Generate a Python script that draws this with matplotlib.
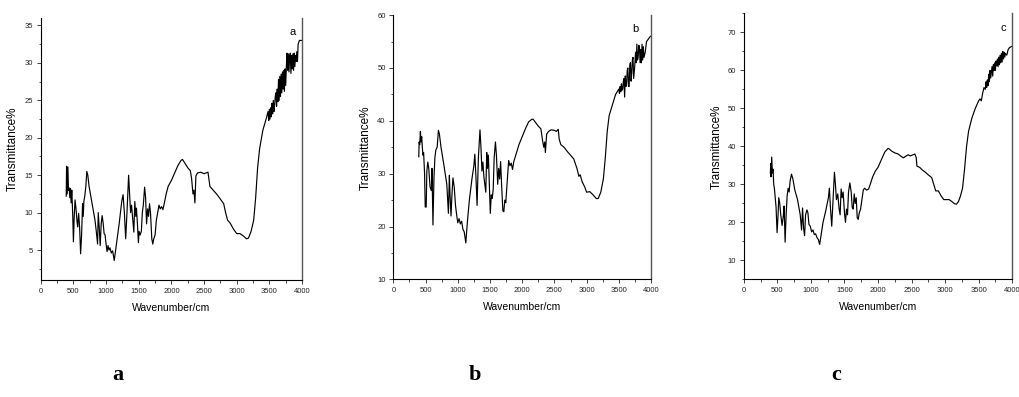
import matplotlib.pyplot as plt
from matplotlib.ticker import MultipleLocator

# ---- FTIR spectra: (wavenumber cm-1, transmittance %) ----
spectrum_a = [
    (390, 12.2), (395, 16.2), (405, 12.5), (415, 16.1), (425, 13.0), (435, 13.3), (445, 12.0),
    (455, 13.2), (465, 11.3), (475, 13.0), (490, 9.5), (500, 6.1), (510, 9.0), (525, 11.7),
    (540, 10.5), (555, 8.8), (565, 8.1), (580, 9.9), (595, 8.0), (610, 4.5), (625, 7.0),
    (640, 11.2), (650, 9.5), (660, 11.5), (675, 12.3), (690, 13.5), (705, 15.5), (720, 15.0),
    (740, 13.5), (760, 12.5), (800, 10.5), (830, 9.0), (850, 7.5), (870, 5.8), (880, 10.0),
    (895, 8.0), (910, 5.6), (925, 8.5), (940, 9.6), (955, 8.6), (970, 7.2), (985, 7.0),
    (1000, 5.8), (1015, 4.8), (1030, 5.6), (1045, 5.0), (1060, 5.3), (1080, 4.6), (1100, 4.9),
    (1125, 3.6), (1150, 5.2), (1200, 8.5), (1240, 11.5), (1260, 12.4), (1280, 10.0), (1300, 6.5),
    (1320, 10.0), (1345, 15.0), (1360, 12.5), (1375, 10.0), (1390, 11.0), (1410, 9.0),
    (1425, 7.4), (1440, 11.5), (1455, 9.5), (1465, 10.6), (1480, 8.5), (1495, 6.0), (1505, 7.5),
    (1520, 7.0), (1540, 7.5), (1555, 10.0), (1570, 11.0), (1590, 13.4), (1605, 12.0),
    (1620, 8.5), (1635, 10.5), (1650, 9.5), (1665, 11.2), (1680, 10.0), (1700, 6.5), (1715, 5.8),
    (1730, 6.5), (1750, 7.0), (1770, 9.0), (1790, 10.0), (1810, 11.0), (1830, 10.5),
    (1850, 10.8), (1870, 10.4), (1890, 11.2), (1920, 12.5), (1950, 13.5), (2000, 14.3),
    (2050, 15.3), (2100, 16.3), (2150, 17.0), (2170, 17.1), (2200, 16.7), (2250, 16.0),
    (2290, 15.6), (2310, 14.5), (2330, 12.5), (2345, 13.0), (2360, 11.3), (2375, 14.9),
    (2400, 15.3), (2450, 15.4), (2500, 15.2), (2530, 15.3), (2560, 15.4), (2575, 14.5),
    (2590, 13.5), (2650, 12.9), (2700, 12.4), (2750, 11.8), (2800, 11.2), (2830, 10.0),
    (2860, 9.0), (2900, 8.6), (2950, 7.8), (3000, 7.2), (3050, 7.2), (3100, 6.9), (3150, 6.5),
    (3180, 6.6), (3220, 7.5), (3260, 9.0), (3290, 12.0), (3320, 16.0), (3350, 18.5),
    (3400, 21.0), (3450, 22.5), (3480, 23.5), (3490, 22.3), (3500, 23.8), (3510, 22.5),
    (3520, 24.0), (3530, 22.8), (3540, 24.6), (3550, 23.2), (3560, 25.0), (3570, 23.5),
    (3580, 24.3), (3590, 25.5), (3600, 26.0), (3610, 24.2), (3620, 26.5), (3630, 24.8),
    (3640, 27.8), (3650, 25.0), (3660, 28.2), (3670, 25.5), (3680, 28.5), (3690, 26.0),
    (3700, 28.8), (3710, 26.5), (3720, 29.0), (3730, 26.2), (3740, 29.2), (3750, 27.0),
    (3760, 29.5), (3770, 31.3), (3780, 29.0), (3790, 31.2), (3800, 28.8), (3810, 30.8),
    (3820, 31.3), (3830, 28.6), (3840, 31.0), (3850, 29.2), (3860, 31.2), (3870, 29.0),
    (3880, 31.3), (3890, 29.5), (3900, 31.0), (3910, 30.2), (3920, 31.5), (3930, 30.2),
    (3940, 32.5), (3960, 33.0), (3990, 33.0),
]

spectrum_b = [
    (395, 33.2), (400, 36.0), (410, 35.5), (420, 38.0), (430, 36.0), (440, 37.0), (450, 35.0),
    (460, 33.5), (470, 34.0), (485, 30.0), (495, 23.7), (510, 23.7), (520, 30.5), (535, 32.2),
    (550, 31.0), (570, 27.5), (590, 26.8), (600, 31.0), (615, 20.3), (630, 29.0), (645, 33.0),
    (660, 34.5), (680, 35.0), (700, 38.2), (715, 37.5), (740, 35.0), (780, 32.0), (830, 28.0),
    (855, 22.5), (870, 29.7), (880, 26.0), (895, 22.0), (910, 26.0), (925, 29.2), (945, 27.5),
    (965, 24.0), (980, 22.5), (1000, 20.7), (1020, 21.5), (1040, 20.5), (1060, 21.0),
    (1080, 19.5), (1100, 19.0), (1125, 16.9), (1150, 21.0), (1180, 25.0), (1220, 29.0),
    (1250, 31.5), (1265, 33.7), (1280, 30.0), (1300, 24.0), (1320, 33.0), (1345, 38.3),
    (1360, 35.0), (1375, 30.5), (1390, 32.2), (1405, 29.5), (1420, 28.0), (1435, 26.5),
    (1450, 34.0), (1460, 31.0), (1475, 33.5), (1490, 28.0), (1505, 22.5), (1520, 26.0),
    (1535, 25.3), (1550, 27.0), (1565, 33.0), (1585, 36.0), (1600, 33.5), (1620, 28.0),
    (1635, 31.0), (1650, 29.0), (1665, 32.3), (1680, 28.0), (1700, 23.0), (1715, 22.8),
    (1730, 25.0), (1745, 24.5), (1770, 29.0), (1790, 32.5), (1810, 31.5), (1830, 32.0),
    (1850, 30.8), (1870, 32.3), (1900, 33.5), (1950, 35.5), (2000, 37.0), (2050, 38.5),
    (2100, 39.8), (2150, 40.3), (2170, 40.3), (2200, 39.8), (2250, 39.0), (2290, 38.5),
    (2320, 36.0), (2335, 35.0), (2350, 36.0), (2360, 34.0), (2380, 37.5), (2410, 38.0),
    (2450, 38.3), (2500, 38.2), (2530, 38.0), (2560, 38.4), (2575, 36.5), (2600, 35.5),
    (2650, 35.0), (2700, 34.2), (2750, 33.5), (2800, 32.8), (2850, 31.0), (2880, 29.5),
    (2900, 29.8), (2930, 28.5), (2970, 27.5), (3000, 26.5), (3050, 26.6), (3100, 26.0),
    (3150, 25.3), (3180, 25.3), (3220, 26.5), (3260, 29.0), (3290, 33.0), (3320, 38.0),
    (3350, 41.0), (3400, 43.0), (3450, 45.0), (3500, 46.0), (3510, 45.2), (3520, 46.5),
    (3530, 45.5), (3540, 47.0), (3550, 45.8), (3560, 46.0), (3570, 47.5), (3580, 48.0),
    (3590, 44.5), (3600, 48.5), (3610, 46.5), (3620, 47.0), (3630, 49.5), (3640, 50.0),
    (3650, 46.5), (3660, 46.5), (3670, 50.5), (3680, 51.0), (3690, 47.5), (3700, 49.0),
    (3710, 51.5), (3720, 52.0), (3730, 48.0), (3745, 50.0), (3760, 53.0), (3770, 51.0),
    (3780, 54.5), (3790, 51.5), (3800, 52.0), (3810, 54.3), (3820, 54.0), (3830, 51.0),
    (3840, 53.5), (3850, 51.0), (3860, 54.5), (3870, 51.5), (3880, 54.0), (3890, 52.0),
    (3910, 53.0), (3930, 55.0), (3960, 55.5), (3990, 56.0),
]

spectrum_c = [
    (395, 33.0), (400, 35.5), (405, 32.0), (415, 37.2), (425, 33.0), (435, 34.0), (445, 30.0),
    (455, 29.0), (465, 27.0), (480, 24.0), (495, 17.3), (510, 22.0), (520, 26.5), (535, 25.0),
    (550, 22.0), (570, 19.2), (590, 22.0), (600, 24.3), (615, 14.8), (630, 22.0), (645, 27.0),
    (660, 29.0), (675, 28.0), (690, 31.0), (710, 32.7), (730, 31.5), (760, 28.5), (800, 26.0),
    (840, 22.0), (860, 18.0), (875, 23.8), (890, 18.5), (905, 16.5), (920, 22.0), (940, 23.3),
    (955, 22.5), (970, 19.5), (990, 19.0), (1010, 17.5), (1030, 18.0), (1050, 16.8),
    (1070, 17.0), (1090, 16.0), (1110, 15.5), (1130, 14.2), (1150, 16.5), (1180, 20.0),
    (1220, 23.0), (1260, 26.5), (1275, 29.0), (1290, 24.0), (1310, 19.0), (1330, 26.0),
    (1350, 33.2), (1365, 30.0), (1380, 26.0), (1400, 27.5), (1420, 23.5), (1435, 22.0),
    (1450, 28.8), (1465, 26.5), (1480, 28.0), (1500, 22.5), (1515, 20.0), (1530, 23.5),
    (1545, 22.0), (1560, 28.0), (1580, 30.4), (1600, 28.0), (1615, 24.0), (1630, 23.5),
    (1645, 27.5), (1660, 25.0), (1675, 26.5), (1690, 21.2), (1705, 20.8), (1720, 22.5),
    (1740, 23.5), (1760, 26.0), (1780, 28.5), (1800, 29.0), (1830, 28.5), (1860, 28.8),
    (1880, 29.8), (1920, 32.0), (1960, 33.5), (2000, 34.5), (2050, 36.5), (2100, 38.5),
    (2150, 39.5), (2170, 39.3), (2200, 38.8), (2250, 38.3), (2300, 38.0), (2350, 37.3),
    (2380, 37.0), (2420, 37.5), (2450, 37.8), (2480, 37.5), (2520, 37.8), (2550, 38.0),
    (2570, 37.0), (2580, 34.8), (2620, 34.5), (2660, 33.8), (2700, 33.3), (2750, 32.5),
    (2800, 31.8), (2830, 30.0), (2860, 28.3), (2900, 28.3), (2940, 27.0), (2980, 26.0),
    (3020, 26.0), (3060, 26.0), (3100, 25.5), (3140, 24.9), (3170, 24.8), (3200, 25.5),
    (3230, 27.0), (3260, 29.0), (3290, 34.0), (3320, 40.0), (3350, 44.0), (3400, 47.5),
    (3450, 50.0), (3500, 52.0), (3520, 52.5), (3540, 52.0), (3560, 54.0), (3580, 55.5),
    (3600, 55.0), (3610, 57.0), (3620, 55.5), (3630, 57.5), (3640, 56.0), (3650, 59.0),
    (3660, 57.0), (3670, 60.0), (3680, 58.0), (3690, 59.5), (3700, 61.0), (3710, 58.5),
    (3720, 61.5), (3730, 60.0), (3740, 62.0), (3750, 60.0), (3760, 62.5), (3770, 61.2),
    (3780, 63.0), (3790, 61.0), (3800, 63.5), (3810, 61.5), (3820, 64.0), (3830, 62.0),
    (3840, 64.5), (3850, 62.2), (3860, 65.0), (3870, 63.0), (3880, 64.8), (3890, 63.5),
    (3900, 64.5), (3920, 64.0), (3940, 65.5), (3960, 66.0), (3990, 66.3),
]

letters = ['a', 'b', 'c']
y_limits = [(1, 36), (10, 60), (5, 75)]
y_steps = [5, 10, 10]

axes_rects = [[0.040, 0.2947, 0.2564, 0.660],
              [0.386, 0.2962, 0.2529, 0.6657],
              [0.730, 0.2962, 0.2633, 0.670]]
corner_xy = [(0.965, 0.947), (0.938, 0.946), (0.966, 0.946)]
bottom_x = [118 / 1019, 475 / 1019, 836 / 1019]

plt.rcParams['font.family'] = ['Liberation Sans', 'DejaVu Sans']

fig = plt.figure(figsize=(10.19, 3.97), dpi=100)

for spec, letter, ylim, ystep, rect, cxy, bx in zip(
        [spectrum_a, spectrum_b, spectrum_c], letters, y_limits, y_steps,
        axes_rects, corner_xy, bottom_x):
    wn, trans = zip(*spec)
    ax = fig.add_axes(rect)
    ax.plot(wn, trans, color='black', lw=0.85)
    ax.set_xlim(0, 4000)
    ax.set_ylim(*ylim)
    ax.xaxis.set_major_locator(MultipleLocator(500))
    ax.xaxis.set_minor_locator(MultipleLocator(250))
    ax.yaxis.set_major_locator(MultipleLocator(ystep))
    ax.yaxis.set_minor_locator(MultipleLocator(ystep / 2))
    ax.tick_params(which='major', direction='out', length=3, width=0.6, labelsize=5.5,
                   pad=2.5, colors='#222222')
    ax.tick_params(which='minor', direction='out', length=1.8, width=0.5)
    ax.spines['top'].set_visible(False)
    for side in ('left', 'bottom'):
        ax.spines[side].set_linewidth(0.8)
    ax.spines['right'].set_color('#555555')
    ax.spines['right'].set_linewidth(1.0)
    ax.set_xlabel('Wavenumber/cm', fontsize=7.5, labelpad=6)
    ax.set_ylabel('Transmittance%', fontsize=8.5, labelpad=4)
    ax.text(cxy[0], cxy[1], letter, transform=ax.transAxes, fontsize=8,
            ha='center', va='center')
    fig.text(bx, 0.055, letter, fontsize=16, fontweight='bold',
             family='Liberation Serif', ha='center', va='center')

fig.savefig('out.png', dpi=100)
